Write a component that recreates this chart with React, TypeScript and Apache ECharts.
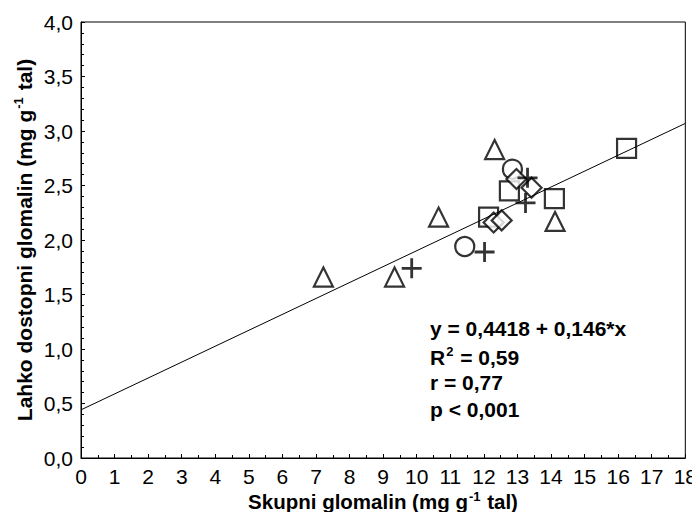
import React, { useEffect, useRef } from "react";
import * as echarts from "echarts";

const triangles: number[][] = [
  [7.22, 1.66], [9.34, 1.66], [10.65, 2.21], [12.32, 2.83], [14.12, 2.17],
];
const circles: number[][] = [
  [11.43, 1.94], [12.85, 2.65],
];
const squares: number[][] = [
  [12.14, 2.21], [12.76, 2.45], [14.1, 2.38], [16.25, 2.84],
];
const diamonds: number[][] = [
  [12.29, 2.16], [12.53, 2.18], [12.97, 2.56], [13.42, 2.48],
];
const pluses: number[][] = [
  [9.85, 1.74], [12.02, 1.89], [13.3, 2.57], [13.24, 2.34],
];
const regLine: number[][] = [
  [0, 0.4418], [18, 3.0698],
];
const statLines: string[] = [
  "y = 0,4418 + 0,146*x",
  "{b|R}{s|2}{b| = 0,59}",
  "r = 0,77",
  "p < 0,001",
];
const xTitle = "{b|Skupni glomalin (mg g}{s|-1}{b| tal)}";
const yTitle = "{b|Lahko dostopni glomalin (mg g}{s|-1}{b| tal)}";

const FONT = "Liberation Sans, Arial, sans-serif";

function titleRich(size: number) {
  return {
    b: { fontSize: size, fontWeight: "bold", fontFamily: FONT, fill: "#000", lineHeight: size + 4 },
    s: { fontSize: Math.round(size * 0.62), fontWeight: "bold", fontFamily: FONT, fill: "#000", lineHeight: size + 4, padding: [0, 1, Math.round(size * 0.5), 1] },
  };
}

export default function App() {
  const ref = useRef<HTMLDivElement>(null);
  useEffect(() => {
    if (!ref.current) return;
    const chart = echarts.init(ref.current, null, { renderer: "svg" });
    const markerStyle = { color: "#fff", borderColor: "#000", borderWidth: 2.2 };
    chart.setOption({
      animation: false,
      backgroundColor: "#fff",
      grid: {
        left: 81, top: 22, right: 14, bottom: 62,
        show: true, borderColor: "#000", borderWidth: 1,
      },
      xAxis: {
        type: "value", min: 0, max: 18, interval: 1,
        axisLine: { show: true, lineStyle: { color: "#000", width: 1 } },
        axisTick: { show: true, inside: true, length: 4, lineStyle: { color: "#000" } },
        minorTick: { show: true, splitNumber: 2, length: 3, lineStyle: { color: "#000" } },
        splitLine: { show: false },
        axisLabel: { color: "#000", fontSize: 21, fontFamily: FONT, margin: 8 },
      },
      yAxis: {
        type: "value", min: 0, max: 4, interval: 0.5,
        axisLine: { show: true, lineStyle: { color: "#000", width: 1 } },
        axisTick: { show: true, inside: true, length: 4, lineStyle: { color: "#000" } },
        minorTick: { show: true, splitNumber: 5, length: 3, lineStyle: { color: "#000" } },
        splitLine: { show: false },
        axisLabel: {
          color: "#000", fontSize: 21, fontFamily: FONT, margin: 8,
          formatter: (v: number) => v.toFixed(1).replace(".", ","),
        },
      },
      series: [
        { type: "scatter", data: triangles, symbol: "triangle", symbolSize: [19, 19], itemStyle: markerStyle, z: 3 },
        { type: "scatter", data: circles, symbol: "circle", symbolSize: 19, itemStyle: markerStyle, z: 3 },
        { type: "scatter", data: squares, symbol: "rect", symbolSize: 19, itemStyle: markerStyle, z: 3 },
        { type: "scatter", data: diamonds, symbol: "diamond", symbolSize: [20, 20], itemStyle: markerStyle, z: 3 },
        {
          type: "scatter", data: pluses, symbol: "path://M0,10 L20,10 M10,0 L10,20", symbolSize: 20,
          itemStyle: { color: "none", borderColor: "#000", borderWidth: 2.8 }, z: 3,
        },
        {
          type: "line", data: regLine, showSymbol: false, symbol: "none", z: 4,
          lineStyle: { color: "#000", width: 1 }, silent: true,
        },
      ],
      graphic: [
        ...statLines.map((t, i) => ({
          type: "text", left: 430, top: 318 + i * 27,
          style: {
            text: t.includes("{") ? t : `{b|${t}}`, rich: titleRich(21),
            fontSize: 21, fontWeight: "bold", fontFamily: FONT, fill: "#000",
          },
        })),
        {
          type: "text", x: 383, y: 501,
          style: {
            text: xTitle, rich: titleRich(20.5), align: "center", verticalAlign: "middle",
            fontSize: 20.5, fontWeight: "bold", fontFamily: FONT, fill: "#000",
          },
        },
        {
          type: "text", x: 24, y: 240, rotation: Math.PI / 2,
          style: {
            text: yTitle, rich: titleRich(21), align: "center", verticalAlign: "middle",
            fontSize: 21, fontWeight: "bold", fontFamily: FONT, fill: "#000",
          },
        },
      ],
    });
    return () => chart.dispose();
  }, []);
  return <div ref={ref} style={{ width: 700, height: 520, margin: -8 }} />;
}
